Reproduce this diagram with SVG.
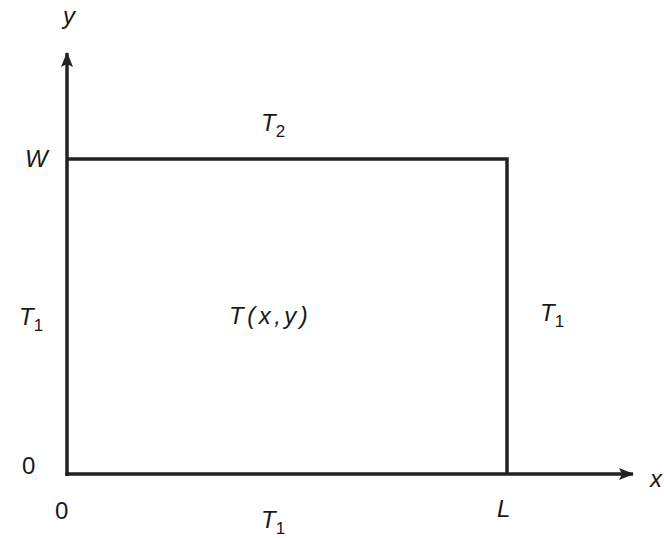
<svg xmlns="http://www.w3.org/2000/svg" width="664" height="538" viewBox="0 0 664 538">
<style>
.ax{stroke:#222;stroke-width:3.5;fill:none}
.t{font-family:"Liberation Sans",Arial,sans-serif;font-size:24px;fill:#1a1a1a}
.i{font-style:italic}
.s{font-size:17px;font-style:normal}
</style>
<defs>
<marker id="ah" viewBox="0 0 15 12" refX="14" refY="6" markerWidth="15" markerHeight="12" markerUnits="userSpaceOnUse" orient="auto">
<path d="M0,0 L15,6 L0,12 L3,6 Z" fill="#222"/>
</marker>
</defs>
<rect width="664" height="538" fill="#fff"/>
<g id="connectors">
<line class="ax" x1="67" y1="476" x2="67" y2="53" marker-end="url(#ah)"/>
<line class="ax" x1="65.3" y1="474" x2="633" y2="474" marker-end="url(#ah)"/>
</g>
<g id="plate">
<polyline class="ax" points="67,159 507,159 507,474"/>
</g>
<g id="labels">
<text class="t i" x="63" y="24">y</text>
<text class="t i" x="25" y="167">W</text>
<text class="t i" x="261" y="131">T<tspan class="s" dy="6">2</tspan></text>
<text class="t i" x="19" y="325">T<tspan class="s" dy="6">1</tspan></text>
<text class="t i" x="229" y="324" letter-spacing="3.5">T(x,y)</text>
<text class="t i" x="540" y="321">T<tspan class="s" dy="6">1</tspan></text>
<text class="t" x="22" y="474">0</text>
<text class="t" x="55" y="519">0</text>
<text class="t i" x="497" y="517">L</text>
<text class="t i" x="650" y="487">x</text>
<text class="t i" x="261" y="528">T<tspan class="s" dy="6">1</tspan></text>
</g>
</svg>
